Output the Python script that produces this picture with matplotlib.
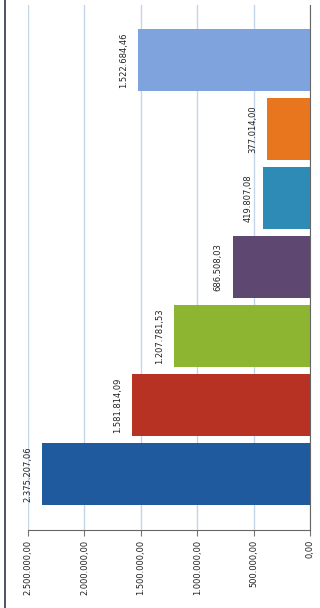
import matplotlib
matplotlib.use('Agg')
import matplotlib.pyplot as plt
from matplotlib.lines import Line2D

# valores de abajo hacia arriba
values = [2375207.06, 1581814.09, 1207781.53, 686508.03, 419807.08, 377014.00, 1522684.46]
colors = ['#1F5A9E', '#B83224', '#8DB531', '#5E4770', '#2E8BB5', '#E8761F', '#7FA4DD']
ticks = [2500000, 2000000, 1500000, 1000000, 500000, 0]


def fmt(v):
    s = '{:,.2f}'.format(v)
    return s.replace(',', 'X').replace('.', ',').replace('X', '.')


fig = plt.figure(figsize=(3.2, 6.08), dpi=100)
ax = fig.add_axes([28 / 320, 78 / 608, 282 / 320, 525 / 608])

pos = list(range(len(values)))
ax.barh(pos, values, height=0.9, color=colors, zorder=2)

for p, v in zip(pos, values):
    ax.annotate(fmt(v), (v, p), xytext=(-7, 0), textcoords='offset points',
                ha='right', va='center', rotation=90, fontsize=6,
                color='#222222', zorder=3)

ax.set_xlim(2500000, 0)
ax.set_ylim(-0.81, 6.8)
ax.set_xticks(ticks)
ax.set_xticklabels([fmt(t) for t in ticks], rotation=90, fontsize=6,
                   color='#222222', va='top')
ax.set_yticks([])
ax.grid(axis='x', color='#C5D5E8', linewidth=1, zorder=0)
ax.tick_params(axis='x', length=4, color='#777777', pad=3)

for s in ['top', 'left']:
    ax.spines[s].set_visible(False)
ax.spines['bottom'].set_color('#666666')
ax.spines['right'].set_color('#666666')

# borde oscuro del escaneo a la izquierda
fig.add_artist(Line2D([5 / 320, 5 / 320], [0, 1], color='#2A3550', linewidth=1.2))

fig.savefig('out.png', dpi=100)
